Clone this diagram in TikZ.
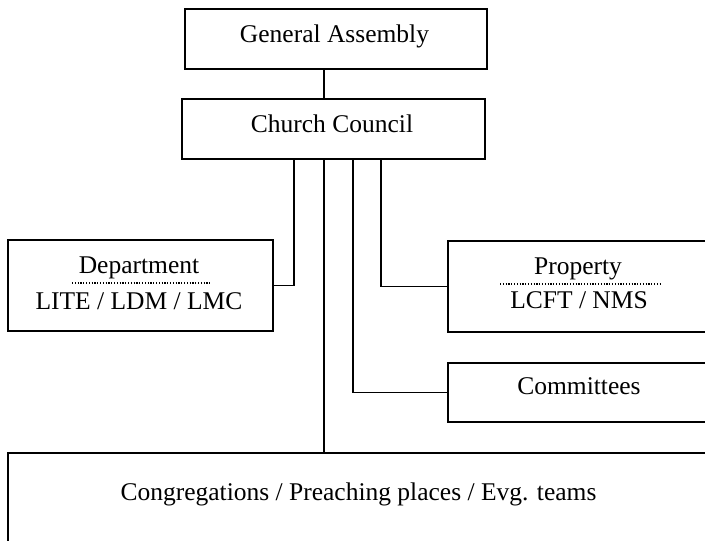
\documentclass[tikz,border=0pt]{standalone}
\usepackage{fontspec}
\setmainfont{Liberation Serif}
\begin{document}
\begin{tikzpicture}[x=1pt,y=-1pt,
  box/.style={draw, line width=1.8pt, minimum width=#1, inner sep=0pt, anchor=north west},
  txt/.style={anchor=base, inner sep=0pt, font=\fontsize{25.5}{30}\selectfont},
  conn/.style={line width=1.8pt},
  dots/.style={line width=1.3pt, dash pattern=on 1.1pt off 1.7pt}]
\useasboundingbox (0,0) rectangle (705,541);
\clip (0,0) rectangle (705,541);
% boxes
\node[box=302pt, minimum height=60pt] (GA) at (184,8) {};
\node[box=303pt, minimum height=60pt] (CC) at (181,98) {};
\node[box=265pt, minimum height=91pt] (Dept) at (7,239) {};
\node[box=263pt, minimum height=91pt] (Prop) at (447,240) {};
\node[box=263pt, minimum height=59pt] (Comm) at (447,362) {};
\node[box=705pt, minimum height=100pt] (Cong) at (7,452) {};
% texts
\node[txt] (tGA) at (334.5,42) {General Assembly};
\node[txt] (tCC) at (332,132) {Church Council};
\node[txt] (tDept) at (139,273) {Department};
\node[txt] (tDept2) at (139,309) {LITE / LDM / LMC};
\node[txt] (tProp) at (578,274) {Property};
\node[txt] (tProp2) at (579,308) {LCFT / NMS};
\node[txt] (tComm) at (579,394) {Committees};
\node[txt] (tCong) at (358.5,500) {Congregations / Preaching places / Evg. teams};
% dotted separators
\coordinate (d1) at (72,283);
\coordinate (d2) at (210,283);
\coordinate (p1) at (500,284);
\coordinate (p2) at (662,284);
\draw[dots] (d1) -- (d2);
\draw[dots] (p1) -- (p2);
% connector columns
\coordinate (xa) at (294,0);
\coordinate (xb) at (324,0);
\coordinate (xc) at (353,0);
\coordinate (xd) at (381,0);
\draw[conn] (GA.south -| xb) -- (CC.north -| xb);
\draw[conn] (CC.south -| xa) |- (Dept.east);
\draw[conn] (CC.south -| xd) |- (Prop.west);
\draw[conn] (CC.south -| xc) |- (Comm.west);
\draw[conn] (CC.south -| xb) -- (Cong.north -| xb);
\end{tikzpicture}
\end{document}
